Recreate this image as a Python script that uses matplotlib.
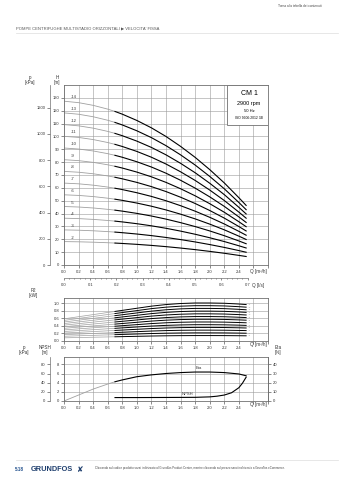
import numpy as np
import matplotlib
matplotlib.use('Agg')
import matplotlib.pyplot as plt
from matplotlib.patches import Rectangle
from matplotlib.ticker import MultipleLocator, FixedLocator

plt.rcParams['font.family'] = ['Liberation Sans', 'DejaVu Sans']

# flow points [m3/h]; the first 5 points (up to 0.7) are drawn grey
flow = [0.0, 0.2, 0.4, 0.6, 0.7, 0.8, 1.0, 1.2, 1.4, 1.6, 1.8, 2.0, 2.2, 2.4, 2.5]
# head per stage [m] and power per stage [kW]
head_per_stage = [9.10, 9.02, 8.87, 8.66, 8.53, 8.38, 8.03, 7.62, 7.14, 6.59, 5.98, 5.30, 4.56, 3.74, 3.31]
power_per_stage = [0.042, 0.046, 0.050, 0.054, 0.056, 0.058, 0.062, 0.066, 0.069, 0.071, 0.072, 0.072, 0.0715, 0.070, 0.069]
stages = [14, 13, 12, 11, 10, 9, 8, 7, 6, 5, 4, 3, 2]

eta = [0, 6.5, 13, 18.5, 21, 23, 26.5, 28.5, 30, 31, 31.6, 31.6, 31, 29.5, 27.5]
npsh_flow = [0.7, 1.0, 1.4, 1.8, 2.0, 2.1, 2.2, 2.3, 2.4, 2.45, 2.5]
npsh = [0.75, 0.75, 0.77, 0.8, 0.9, 1.05, 1.3, 1.8, 2.9, 3.9, 5.2]

q_ticks = [0.0, 0.2, 0.4, 0.6, 0.8, 1.0, 1.2, 1.4, 1.6, 1.8, 2.0, 2.2, 2.4]
qls_ticks = [0.0, 0.1, 0.2, 0.3, 0.4, 0.5, 0.6, 0.7]

W, H = 339, 480
GRID = '#9a9a9a'
FRAME = '#707070'
GREY_CURVE = '#a0a0a0'
FS = 3.0


def rect(l, t, r, b):
    return [l / W, 1 - b / H, (r - l) / W, (b - t) / H]


def style_axes(ax, ymax, ystep):
    ax.set_xlim(0, 2.8)
    ax.set_ylim(0, ymax)
    ax.yaxis.set_major_locator(MultipleLocator(ystep))
    ax.grid(True, color=GRID, lw=0.4)
    ax.set_axisbelow(True)
    for s in ax.spines.values():
        s.set_color(FRAME)
        s.set_linewidth(0.6)
    ax.tick_params(axis='both', labelsize=FS, length=2, width=0.4, pad=1.5, colors='#333333')
    ax.set_xticks(np.arange(0, 2.81, 0.2))
    ax.set_xticklabels([f'{v:.1f}' for v in q_ticks] + ['', ''])
    ax.text(2.67, -0.02, 'Q [m³/h]', transform=ax.get_xaxis_transform(),
            ha='center', va='top', fontsize=FS + 0.3, color='#333333')


def left_twin(ax, scale, ticks, labels):
    tw = ax.twinx()
    tw.set_ylim(0, ax.get_ylim()[1] * scale)
    tw.yaxis.tick_left()
    tw.spines['left'].set_position(('outward', 10))
    tw.spines['left'].set_color(FRAME)
    tw.spines['left'].set_linewidth(0.5)
    for k in ['right', 'top', 'bottom']:
        tw.spines[k].set_visible(False)
    tw.set_yticks(ticks)
    tw.set_yticklabels(labels)
    tw.tick_params(axis='y', labelsize=FS, length=2, width=0.4, pad=1.5, colors='#333333')
    return tw


fig = plt.figure(figsize=(W / 100, H / 100), dpi=100)
fig.patch.set_facecolor('white')

# page header / footer
fig.text(300 / W, 1 - 6 / H, 'Torna alla tabella dei contenuti', fontsize=2.3,
         ha='center', va='center', color='#444444')
fig.text(16 / W, 1 - 28 / H, "POMPE CENTRIFUGHE MULTISTADIO ORIZZONTALI \u25b6 VELOCITA' FISSA",
         fontsize=3.0, ha='left', va='center', color='#555555')
fig.add_artist(plt.Line2D([16 / W, 338 / W], [1 - 32.5 / H] * 2, color='#dddddd', lw=0.5))
fig.add_artist(plt.Line2D([16 / W, 338 / W], [1 - 460 / H] * 2, color='#dddddd', lw=0.5))
fig.text(15 / W, 1 - 469.5 / H, '5.18', fontsize=3.3, ha='left', va='center',
         color='#1f4e8c', weight='bold')
fig.text(31 / W, 1 - 469.5 / H, 'GRUNDFOS', fontsize=5.3, ha='left', va='center',
         color='#1f3f6e', weight='bold')
fig.text(76 / W, 1 - 469 / H, '\u2718', fontsize=5.5, ha='left', va='center',
         color='#1f3f6e', family=['DejaVu Sans'])
fig.text(95 / W, 1 - 468 / H,
         'Cliccando sul codice prodotto sarai indirizzato al Grundfos Product Center, '
         'mentre cliccando sul prezzo sarai indirizzato a Grundfos eCommerce.',
         fontsize=2.1, ha='left', va='center', color='#444444')

# ---- head chart ----
ax = fig.add_axes(rect(64, 85, 268, 265))
style_axes(ax, 140, 10)
ax.set_yticks(np.arange(0, 131, 10))
for n in stages:
    h = np.array(head_per_stage) * n
    ax.plot(flow[:5], h[:5], color=GREY_CURVE, lw=0.6)
    ax.plot(flow[4:], h[4:], color='black', lw=0.8)
    ax.text(0.1, h[0] + 1.5, f'-{n}', fontsize=FS, ha='left', va='bottom', color='#333333')
left_twin(ax, 9.81, np.arange(0, 1201, 200), [str(v) for v in range(0, 1201, 200)])
ax.add_patch(Rectangle((0.8, 0.778), 0.2, 0.222, transform=ax.transAxes,
                       facecolor='white', edgecolor=FRAME, lw=0.6, zorder=5))
ax.text(0.907, 0.955, 'CM 1', transform=ax.transAxes, ha='center', va='center', fontsize=5, zorder=6)
ax.text(0.907, 0.898, '2900 rpm', transform=ax.transAxes, ha='center', va='center', fontsize=4, zorder=6)
ax.text(0.907, 0.857, '50 Hz', transform=ax.transAxes, ha='center', va='center', fontsize=3, zorder=6)
ax.text(0.907, 0.818, 'ISO 9906:2012 3B', transform=ax.transAxes, ha='center', va='center',
        fontsize=2.4, zorder=6)
fig.text(30 / W, 1 - 80 / H, 'p\n[kPa]', fontsize=FS + 0.3, ha='center', va='center',
         linespacing=0.9, color='#333333')
fig.text(57 / W, 1 - 80 / H, 'H\n[m]', fontsize=FS + 0.3, ha='center', va='center',
         linespacing=0.9, color='#333333')

# ---- Q [l/s] scale ----
axl = fig.add_axes(rect(64, 277, 268, 278))
axl.set_xlim(0, 2.8 / 3.6)
axl.set_yticks([])
for k in ['left', 'right', 'top']:
    axl.spines[k].set_visible(False)
axl.spines['bottom'].set_bounds(0, 0.7)
axl.spines['bottom'].set_color(FRAME)
axl.spines['bottom'].set_linewidth(0.5)
axl.set_xticks(qls_ticks)
axl.set_xticklabels([f'{v:.1f}' for v in qls_ticks])
axl.xaxis.set_minor_locator(FixedLocator(np.arange(0, 0.701, 0.02)))
axl.tick_params(axis='x', which='both', labelsize=FS, length=1.5, width=0.4, pad=2, colors='#333333')
axl.tick_params(axis='x', which='minor', length=1)
axl.patch.set_alpha(0)
fig.text(258 / W, 1 - 286 / H, 'Q [l/s]', fontsize=FS + 0.3, ha='center', va='center', color='#333333')

# ---- power chart ----
axp = fig.add_axes(rect(64, 298, 268, 341))
style_axes(axp, 1.14, 0.2)
axp.set_yticks(np.arange(0, 1.01, 0.2))
axp.set_yticklabels([f'{v:.1f}' for v in np.arange(0, 1.01, 0.2)])
for n in stages:
    p = np.array(power_per_stage) * n
    axp.plot(flow[:5], p[:5], color=GREY_CURVE, lw=0.5)
    axp.plot(flow[4:], p[4:], color='black', lw=0.7)
    axp.text(2.53, p[-1], f'-{n}', fontsize=1.6, ha='left', va='center', color='#888888')
fig.text(33 / W, 1 - 293 / H, 'P2\n[kW]', fontsize=FS + 0.3, ha='center', va='center',
         linespacing=0.9, color='#333333')

# ---- NPSH / efficiency chart ----
axn = fig.add_axes(rect(64, 357, 268, 401))
style_axes(axn, 9.6, 2)
axn.set_yticks(np.arange(0, 8.1, 2))
axn.plot(flow[:5], np.array(eta[:5]) / 5, color=GREY_CURVE, lw=0.6)
axn.plot(flow[4:], np.array(eta[4:]) / 5, color='black', lw=0.8)
axn.plot(npsh_flow, npsh, color='black', lw=0.8)
axn.text(1.85, 6.7, 'Eta', fontsize=FS, ha='center', va='bottom', color='#333333')
axn.text(1.7, 1.1, 'NPSH', fontsize=FS, ha='center', va='bottom', color='#333333')
left_twin(axn, 10, np.arange(0, 81, 20), [str(v) for v in range(0, 81, 20)])
axe = axn.twinx()
axe.set_ylim(0, 48)
axe.set_yticks(np.arange(0, 41, 10))
for k in ['left', 'top', 'bottom']:
    axe.spines[k].set_visible(False)
axe.spines['right'].set_color(FRAME)
axe.spines['right'].set_linewidth(0.6)
axe.tick_params(axis='y', labelsize=FS, length=2, width=0.4, pad=1.5, colors='#333333')
fig.text(24 / W, 1 - 350 / H, 'p\n[kPa]', fontsize=FS + 0.3, ha='center', va='center',
         linespacing=0.9, color='#333333')
fig.text(45 / W, 1 - 350 / H, 'NPSH\n[m]', fontsize=FS + 0.3, ha='center', va='center',
         linespacing=0.9, color='#333333')
fig.text(278 / W, 1 - 350 / H, 'Eta\n[%]', fontsize=FS + 0.3, ha='center', va='center',
         linespacing=0.9, color='#333333')

fig.savefig('out.png', dpi=100)
